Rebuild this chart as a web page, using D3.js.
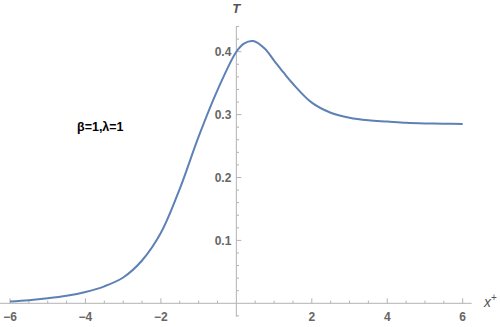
<!DOCTYPE html>
<html>
<head>
<meta charset="utf-8">
<script src="https://cdn.jsdelivr.net/npm/d3@7"></script>
<style>
  body { margin: 0; background: #fff; }
  svg { display: block; }
  text { font-family: "Liberation Sans", Arial, sans-serif; }
</style>
</head>
<body>
<div id="chart"></div>
<script>
// curve values
var xVals = [-6, -5.5, -5, -4.5, -4, -3.5, -3, -2.5, -2, -1.5, -1, -0.5, 0, 0.2, 0.45, 0.75, 1, 1.25, 1.5, 2, 2.5, 3, 3.5, 4, 4.5, 5, 5.5, 6];
var tVals = [0.003, 0.005, 0.008, 0.012, 0.018, 0.027, 0.041, 0.068, 0.112, 0.182, 0.265, 0.339, 0.400, 0.413, 0.417, 0.405, 0.386, 0.367, 0.349, 0.319, 0.303, 0.295, 0.291, 0.289, 0.287, 0.286, 0.2855, 0.285];

var xMajor = [-6, -4, -2, 2, 4, 6];
var yMajor = [0.1, 0.2, 0.3, 0.4];

var width = 500, height = 327;

var x = d3.scaleLinear().domain([-6, 6]).range([10, 462.7]);
var y = d3.scaleLinear().domain([0, 0.4]).range([303.3, 51.7]);

var svg = d3.select("#chart").append("svg")
  .attr("width", width)
  .attr("height", height);

var axisColor = "#b3b3b3";
var labelColor = "#666";

// x axis
var gx = svg.append("g").attr("transform", "translate(0," + y(0) + ")");
gx.append("line")
  .attr("x1", 0).attr("x2", 471.7)
  .attr("stroke", axisColor);
gx.selectAll(".xt")
  .data(d3.range(-6, 6.01, 0.5).filter(function(d){ return d !== 0; }))
  .enter().append("line")
  .attr("x1", function(d){ return x(d); })
  .attr("x2", function(d){ return x(d); })
  .attr("y1", 0)
  .attr("y2", function(d){ return xMajor.indexOf(d) >= 0 ? -5 : -2.7; })
  .attr("stroke", axisColor);
gx.selectAll(".xl")
  .data(xMajor)
  .enter().append("text")
  .attr("x", function(d){ return x(d); })
  .attr("y", 17.5)
  .attr("text-anchor", "middle")
  .attr("fill", labelColor)
  .attr("font-size", 12)
  .attr("font-weight", "bold")
  .text(function(d){ return d < 0 ? "\u2212" + Math.abs(d) : d; });

// y axis
var gy = svg.append("g").attr("transform", "translate(" + x(0) + ",0)");
gy.append("line")
  .attr("y1", 26).attr("y2", 316.7)
  .attr("stroke", axisColor);
var yTicks = d3.range(-0.02, 0.441, 0.02).map(function(d){ return Math.round(d * 100) / 100; })
  .filter(function(d){ return d !== 0; });
gy.selectAll(".yt")
  .data(yTicks)
  .enter().append("line")
  .attr("y1", function(d){ return y(d); })
  .attr("y2", function(d){ return y(d); })
  .attr("x1", 0)
  .attr("x2", function(d){ return yMajor.indexOf(d) >= 0 ? 5 : 2.7; })
  .attr("stroke", axisColor);
gy.selectAll(".yl")
  .data(yMajor)
  .enter().append("text")
  .attr("x", -5)
  .attr("y", function(d){ return y(d); })
  .attr("dy", "0.35em")
  .attr("text-anchor", "end")
  .attr("fill", labelColor)
  .attr("font-size", 12)
  .attr("font-weight", "bold")
  .text(function(d){ return d; });

// axis labels
svg.append("text")
  .attr("x", x(0))
  .attr("y", 13)
  .attr("text-anchor", "middle")
  .attr("fill", "#555")
  .attr("font-size", 13)
  .attr("font-style", "italic")
  .attr("font-weight", "bold")
  .text("T");

var xl = svg.append("text")
  .attr("x", 484)
  .attr("y", 307)
  .attr("fill", "#555")
  .attr("font-size", 14)
  .attr("font-style", "italic")
  .text("x");
xl.append("tspan")
  .attr("dy", -6)
  .attr("font-size", 10)
  .attr("font-style", "normal")
  .text("+");

// annotation
svg.append("text")
  .attr("x", 77)
  .attr("y", 131)
  .attr("fill", "#000")
  .attr("font-size", 12.5)
  .attr("font-weight", "bold")
  .text("\u03b2=1,\u03bb=1");

// curve
var data = xVals.map(function(d, i){ return [d, tVals[i]]; });
var line = d3.line()
  .x(function(d){ return x(d[0]); })
  .y(function(d){ return y(d[1]); })
  .curve(d3.curveCatmullRom.alpha(0.5));

svg.append("path")
  .datum(data)
  .attr("d", line)
  .attr("fill", "none")
  .attr("stroke", "#5e81b5")
  .attr("stroke-width", 2);
</script>
</body>
</html>
